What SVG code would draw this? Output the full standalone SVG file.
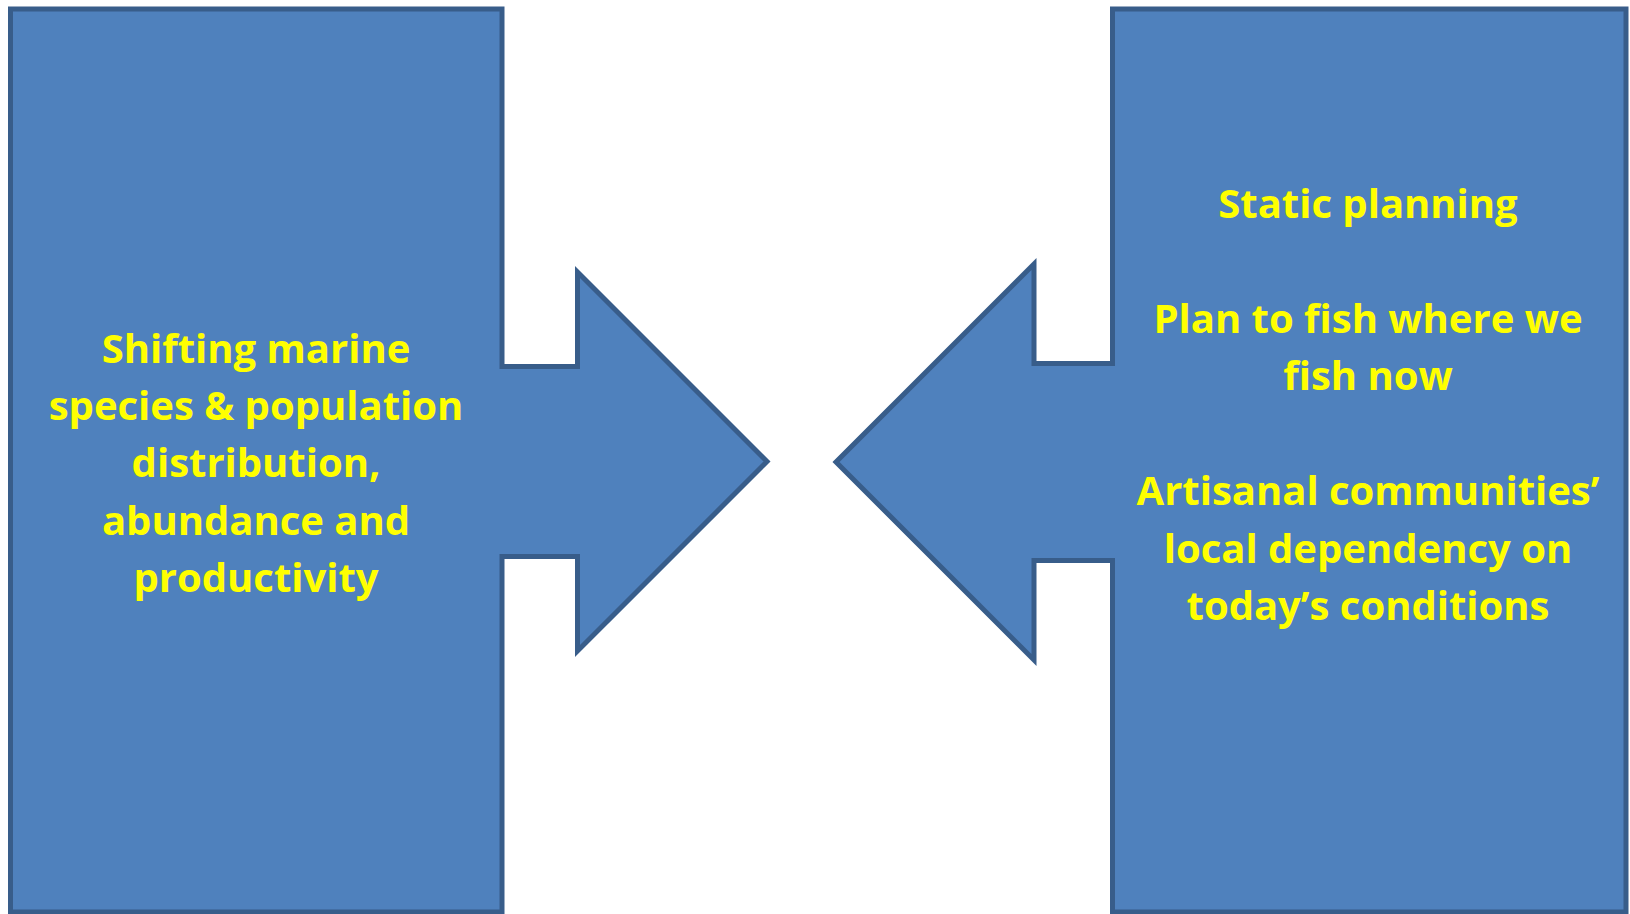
<svg xmlns="http://www.w3.org/2000/svg" width="1630" height="914" viewBox="0 0 1630 914">
<style>
.shape{fill:#4F81BD;stroke:#385D8A;stroke-width:5;stroke-linejoin:miter;stroke-miterlimit:10}
.lbl{font-family:"Open Sans","Liberation Sans",sans-serif;font-weight:bold;font-size:40px;fill:#FFFF00;text-anchor:middle}
</style>
<rect width="1630" height="914" fill="#FFFFFF"/>
<g id="connectors"></g>
<g id="left-node">
<polygon class="shape" points="10.5,9 502,9 502,366.5 577.5,366.5 577.5,272 767,461.5 577.5,651 577.5,556.5 502,556.5 502,912 10.5,912"/>
<text class="lbl" x="256" y="363">Shifting marine</text>
<text class="lbl" x="256" y="420">species &amp; population</text>
<text class="lbl" x="256" y="477">distribution,</text>
<text class="lbl" x="256" y="535">abundance and</text>
<text class="lbl" x="256" y="592">productivity</text>
</g>
<g id="right-node">
<polygon class="shape" points="1626,9 1112.5,9 1112.5,363.5 1034,363.5 1034,264 836,462 1034,660 1034,560.5 1112.5,560.5 1112.5,912 1626,912"/>
<text class="lbl" x="1368" y="218">Static planning</text>
<text class="lbl" x="1368" y="333">Plan to fish where we</text>
<text class="lbl" x="1368" y="390">fish now</text>
<text class="lbl" x="1368" y="505">Artisanal communities’</text>
<text class="lbl" x="1368" y="563">local dependency on</text>
<text class="lbl" x="1368" y="620">today’s conditions</text>
</g>
</svg>
